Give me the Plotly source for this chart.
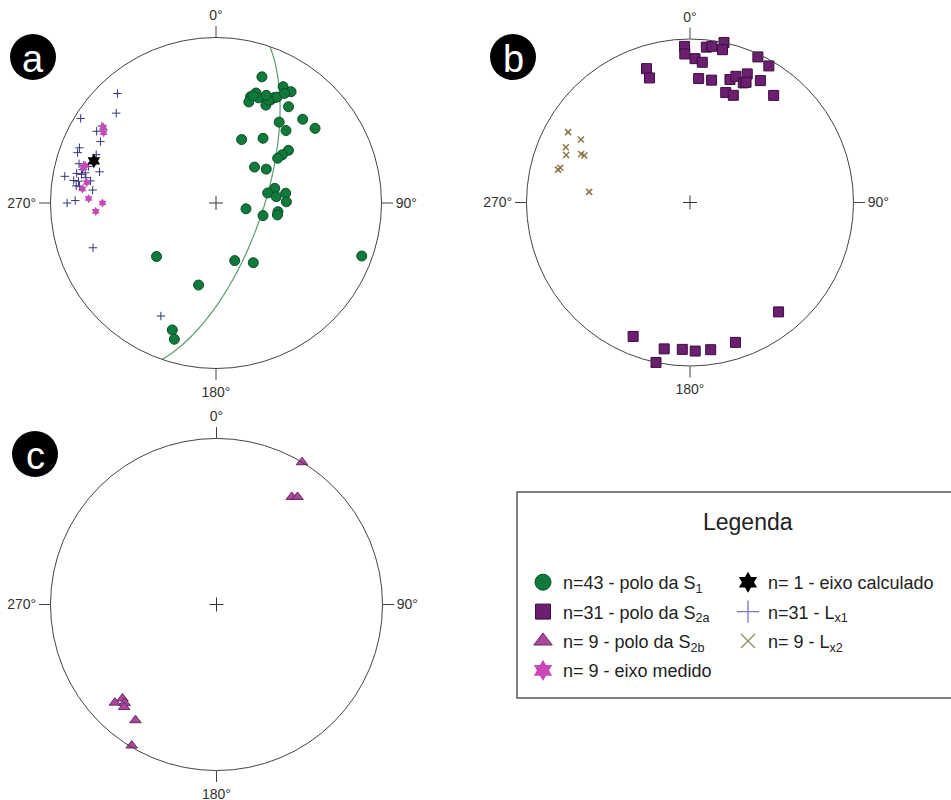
import numpy as np
import plotly.graph_objects as go

W, H = 951, 800
FONT = "Liberation Sans, Arial, sans-serif"

# ---------------- data (trend / plunge, degrees) ----------------
# Panel a
s1_trend = [20, 30, 34, 20, 18, 18, 22, 27, 28, 29, 30, 32, 37, 38, 46, 53, 44, 22, 36, 54,
            54, 54, 47, 56, 76, 79, 84, 82, 89, 101, 105, 98, 101, 228, 192, 162, 148, 110, 199, 197,
            19, 27, 25]
s1_plunge = [20, 20, 20, 30, 33, 36, 32, 34, 30, 28, 27, 23, 28, 38, 28, 26, 39, 56, 50, 45,
             49, 52, 64, 60, 60, 64, 60, 55, 55, 75, 66, 59, 59, 50, 48, 60, 55, 7, 20, 15,
             32, 31, 29]
lx1_trend = [318, 312, 302, 304, 301, 298, 292, 290, 292, 286, 286, 285, 280, 282, 282, 283, 279, 279,
             280, 277, 276, 270, 271, 250, 206, 286, 284, 277, 281, 290, 303]
lx1_plunge = [12, 20, 4, 18, 17, 22, 12, 12, 23, 15, 18, 28, 8, 15, 18, 20, 14, 17,
              24, 18, 26, 11, 16, 22, 25, 21, 18, 16, 21, 23, 20]
medido_trend = [304, 302, 285, 286, 279, 276, 272, 270, 266]
medido_plunge = [19, 21, 18, 19, 22, 20, 24, 32, 28]
calc_trend = [289]
calc_plunge = [23]
# Panel b
s2a_trend = [358, 358, 6, 8, 12, 12, 2, 5, 342, 342, 4, 10, 18, 20, 24, 24, 25, 30, 25, 30,
             18, 22, 38, 141, 203, 162, 190, 183, 178, 172, 192]
s2a_plunge = [5, 10, 5, 4, 0, 5, 13, 15, 15, 21, 25, 25, 22, 19, 15, 21, 20, 15, 2, 4,
              30, 30, 18, 15, 12, 11, 10, 11, 10, 10, 0]
lx2_trend = [300, 300, 294, 291, 294, 294, 285, 284, 276]
lx2_plunge = [15, 24, 18, 20, 28, 30, 19, 18, 38]
# Panel c
s2b_trend = [31, 35, 37, 226, 225, 223, 222, 215, 211]
s2b_plunge = [0, 22, 20, 16, 21, 20, 18, 16, 1]

tick_vals = [0, 90, 180, 270]
tick_text = ["0°", "90°", "180°", "270°"]


def schmidt_r(plunge):
    """Equal-area (Schmidt) lower-hemisphere radius, normalised to 1."""
    p = np.radians(np.asarray(plunge, dtype=float))
    return np.sqrt(2) * np.sin((np.pi / 2 - p) / 2)


def great_circle_from_pole(trend, plunge, n=181):
    tr, pl = np.radians(trend), np.radians(plunge)
    s = np.array([np.cos(tr - np.pi / 2), np.sin(tr - np.pi / 2), 0.0])
    dtr, dpl = tr + np.pi, np.pi / 2 - pl
    d = np.array([np.cos(dpl) * np.cos(dtr), np.cos(dpl) * np.sin(dtr), np.sin(dpl)])
    t = np.linspace(0, np.pi, n)
    v = np.outer(np.cos(t), s) + np.outer(np.sin(t), d)
    tt = np.degrees(np.arctan2(v[:, 1], v[:, 0])) % 360
    pp = np.degrees(np.arcsin(np.clip(v[:, 2], -1, 1)))
    return tt, pp


fig = go.Figure()


def add_pts(sub, trend, plunge, **marker):
    fig.add_trace(go.Scatterpolar(
        r=schmidt_r(plunge), theta=trend, mode="markers", subplot=sub,
        marker=marker, showlegend=False, cliponaxis=False, hoverinfo="skip"))


# great circle (plane whose pole is the calculated axis)
gc_t, gc_p = great_circle_from_pole(calc_trend[0], calc_plunge[0])
fig.add_trace(go.Scatterpolar(r=schmidt_r(gc_p), theta=gc_t, mode="lines", subplot="polar",
                              line=dict(color="#5a9c6c", width=1.2), showlegend=False,
                              hoverinfo="skip"))

# centre crosses
for sub in ["polar", "polar2", "polar3"]:
    fig.add_trace(go.Scatterpolar(r=[0], theta=[0], mode="markers", subplot=sub,
                                  marker=dict(symbol="cross-thin", size=10,
                                              line=dict(color="#333", width=1)),
                                  showlegend=False, hoverinfo="skip"))

GREEN, GREEN_L = "#0f7a3c", "#0a4f27"
PURPLE, PURPLE_L = "#6c1f70", "#3b0f3e"
MAUVE, MAUVE_L = "#a8479c", "#6a2a62"
MAGENTA = "#c848b8"
NAVY = "#34347e"
OLIVE = "#8a7448"

add_pts("polar", s1_trend, s1_plunge, symbol="circle", size=10, color=GREEN,
        line=dict(color=GREEN_L, width=1))
add_pts("polar", lx1_trend, lx1_plunge, symbol="cross-thin", size=6,
        line=dict(color=NAVY, width=1))
add_pts("polar", medido_trend, medido_plunge, symbol="hexagram", size=7, color=MAGENTA,
        line=dict(width=0))
add_pts("polar", calc_trend, calc_plunge, symbol="hexagram", size=11, color="black",
        line=dict(width=0))
add_pts("polar2", s2a_trend, s2a_plunge, symbol="square", size=10, color=PURPLE,
        line=dict(color=PURPLE_L, width=1))
add_pts("polar2", lx2_trend, lx2_plunge, symbol="x-thin", size=6,
        line=dict(color=OLIVE, width=1.5))
add_pts("polar3", s2b_trend, s2b_plunge, symbol="triangle-up", size=10, color=MAUVE,
        line=dict(color=MAUVE_L, width=1))

# legend entries
legend_items = [
    ("legend", "n=43 - polo da S<sub>1</sub>", dict(symbol="circle", size=16, color=GREEN, line=dict(color=GREEN_L, width=1))),
    ("legend", "n=31 - polo da S<sub>2a</sub>", dict(symbol="square", size=15, color=PURPLE, line=dict(color=PURPLE_L, width=1))),
    ("legend", "n= 9 - polo da S<sub>2b</sub>", dict(symbol="triangle-up", size=16, color=MAUVE, line=dict(color=MAUVE_L, width=1))),
    ("legend", "n= 9 - eixo medido", dict(symbol="hexagram", size=16, color=MAGENTA, line=dict(width=0))),
    ("legend2", "n= 1 - eixo calculado", dict(symbol="hexagram", size=16, color="black", line=dict(width=0))),
    ("legend2", "n=31 - L<sub>x1</sub>", dict(symbol="cross-thin", size=16, line=dict(color="#7878c0", width=1.3))),
    ("legend2", "n= 9 - L<sub>x2</sub>", dict(symbol="x-thin", size=14, line=dict(color="#8c8a62", width=1.3))),
]
for i, (lg, name, mk) in enumerate(legend_items):
    fig.add_trace(go.Scatterpolar(r=[None], theta=[None], mode="markers", subplot="polar",
                                  name=name, marker=mk, legend=lg, legendgroup=f"g{i}",
                                  showlegend=True))


def polar_cfg(cx, cy, R):
    return dict(
        domain=dict(x=[(cx - R) / W, (cx + R) / W], y=[1 - (cy + R) / H, 1 - (cy - R) / H]),
        bgcolor="white",
        radialaxis=dict(visible=False, range=[0, 1]),
        angularaxis=dict(rotation=90, direction="clockwise", tickmode="array",
                         tickvals=tick_vals, ticktext=tick_text, ticks="outside",
                         ticklen=11, tickwidth=1, tickcolor="#444", showgrid=False,
                         linecolor="#444", linewidth=1,
                         tickfont=dict(size=14, color="#333", family=FONT)),
    )


def circ(cx, cy, r):
    return dict(type="circle", xref="paper", yref="paper",
                x0=(cx - r) / W, x1=(cx + r) / W, y0=1 - (cy + r) / H, y1=1 - (cy - r) / H,
                fillcolor="black", line=dict(width=0))


panel_labels = [("a", 33, 57), ("b", 513, 57), ("c", 35, 454)]
shapes = [circ(cx, cy, 23) for _, cx, cy in panel_labels]
shapes.append(dict(type="rect", xref="paper", yref="paper",
                   x0=517 / W, x1=960 / W, y0=1 - 698 / H, y1=1 - 492 / H,
                   line=dict(color="#555", width=1.5), fillcolor="rgba(0,0,0,0)"))
annotations = [dict(text=t, x=cx / W, y=1 - (cy + 2) / H, xref="paper", yref="paper",
                    showarrow=False, font=dict(size=38, color="white", family=FONT),
                    xanchor="center", yanchor="middle") for t, cx, cy in panel_labels]
annotations.append(dict(text="Legenda", x=748 / W, y=1 - 522 / H, xref="paper", yref="paper",
                        showarrow=False, font=dict(size=23, color="#222", family=FONT),
                        xanchor="center", yanchor="middle"))

leg_common = dict(xanchor="left", yanchor="top", bgcolor="rgba(0,0,0,0)", borderwidth=0,
                  font=dict(size=18, color="#222", family=FONT), tracegroupgap=3,
                  orientation="v", itemclick=False, itemdoubleclick=False)

fig.update_layout(
    width=W, height=H, margin=dict(l=0, r=0, t=0, b=0),
    paper_bgcolor="white", plot_bgcolor="white",
    polar=polar_cfg(216, 203, 165.5),
    polar2=polar_cfg(690, 202.5, 163.5),
    polar3=polar_cfg(216.5, 604.5, 166),
    shapes=shapes, annotations=annotations,
    legend=dict(x=523 / W, y=1 - 564 / H, **leg_common),
    legend2=dict(x=728 / W, y=1 - 564 / H, **leg_common),
    font=dict(family=FONT),
)

fig.write_html("out.html", config={"displayModeBar": False},
               post_script="document.body.style.margin='0px';")
